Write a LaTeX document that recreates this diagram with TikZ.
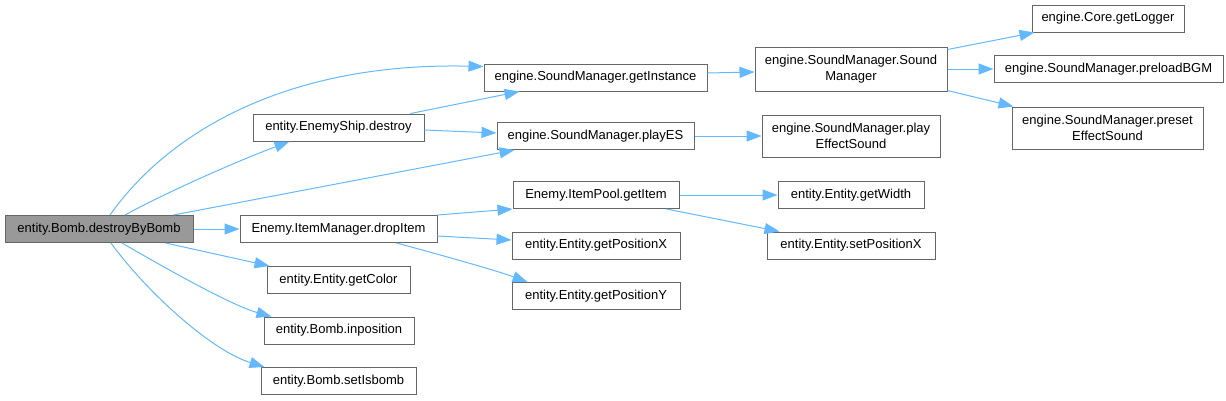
\documentclass[tikz,border=0pt]{standalone}
\usepackage{fontspec}
\setmainfont{Liberation Sans}
\usetikzlibrary{arrows.meta}
\definecolor{edgeblue}{HTML}{63B8FF}
\definecolor{boxgray}{HTML}{666666}
\definecolor{mainfill}{HTML}{999999}

\begin{document}
\begin{tikzpicture}[x=1pt,y=-1pt,
        func/.style = {draw=boxgray, fill=white, line width=1pt, inner sep=0pt,
            minimum height=27pt, align=center, font=\fontsize{13}{16}\selectfont},
        call/.style = {draw=edgeblue, line width=1pt, -{Triangle[length=15pt,width=11pt]}}]
        \useasboundingbox (0,0) rectangle (1226,400);

        % Caller
        \node[func,fill=mainfill,minimum width=188pt] (bomb) at (99,229) {entity.Bomb.destroyByBomb};

        % Second column
        \node[func,minimum width=171pt] (destroy) at (338.5,127.5) {entity.EnemyShip.destroy};
        \node[func,minimum width=197pt] (drop) at (338.5,229) {Enemy.ItemManager.dropItem};
        \node[func,minimum width=143pt] (color) at (338.5,280) {entity.Entity.getColor};
        \node[func,minimum width=150pt] (inpos) at (339,330.5) {entity.Bomb.inposition};
        \node[func,minimum width=155pt] (isbomb) at (338.5,381) {entity.Bomb.setIsbomb};

        % Third column
        \node[func,minimum width=223pt] (inst) at (595.5,77.5) {engine.SoundManager.getInstance};
        \node[func,minimum width=197pt] (play) at (595.5,136) {engine.SoundManager.playES};
        \node[func,minimum width=166pt] (item) at (596,195) {Enemy.ItemPool.getItem};
        \node[func,minimum width=168pt] (getx) at (596,245.5) {entity.Entity.getPositionX};
        \node[func,minimum width=168pt] (gety) at (596,296) {entity.Entity.getPositionY};

        % Fourth column
        \node[func,minimum width=192pt,minimum height=44pt] (smgr) at (851,69) {engine.SoundManager.Sound\\Manager};
        \node[func,minimum width=178pt,minimum height=42pt] (pes) at (851,136) {engine.SoundManager.play\\EffectSound};
        \node[func,minimum width=146pt] (width) at (851,195) {entity.Entity.getWidth};
        \node[func,minimum width=168pt] (setx) at (851,245.5) {entity.Entity.setPositionX};

        % Fifth column
        \node[func,minimum width=152pt] (logger) at (1108,18.5) {engine.Core.getLogger};
        \node[func,minimum width=229pt] (bgm) at (1108.5,69) {engine.SoundManager.preloadBGM};
        \node[func,minimum width=191pt,minimum height=42pt] (preset) at (1107.5,128) {engine.SoundManager.preset\\EffectSound};

        % Calls from destroyByBomb
        \draw[call] ([xshift=11pt]bomb.north) .. controls (170,130) and (290,62) .. ([yshift=11pt]inst.west);
        \draw[call] ([xshift=26pt]bomb.north) .. controls (165,193) and (235,162) .. ([xshift=37pt]destroy.south west);
        \draw[call] ([xshift=-20pt]bomb.north east) -- ([xshift=18pt]play.south west);
        \draw[call] (bomb.east) -- (drop.west);
        \draw[call] ([xshift=-28pt]bomb.south east) -- ([xshift=3pt]color.north west);
        \draw[call] ([xshift=23pt]bomb.south) .. controls (160,265) and (230,305) .. ([xshift=8pt]inpos.north west);
        \draw[call] ([xshift=12pt]bomb.south) .. controls (145,290) and (210,350) .. ([xshift=4pt]isbomb.north west);

        % Calls from the second column
        \draw[call] ([xshift=-14pt]destroy.north east) -- ([xshift=36pt]inst.south west);
        \draw[call] ([yshift=-2.5pt]destroy.east) -- ([yshift=3pt]play.west);
        \draw[call] (drop.north east) -- (item.south west);
        \draw[call] ([yshift=-7pt]drop.east) -- ([yshift=5.5pt]getx.west);
        \draw[call] ([xshift=-41pt]drop.south east) .. controls (430,252) and (495,270) .. ([xshift=16pt]gety.north west);

        % Calls from the third column
        \draw[call] ([yshift=4.5pt]inst.east) -- ([yshift=-3pt]smgr.west);
        \draw[call] (play.east) -- (pes.west);
        \draw[call] (item.east) -- (width.west);
        \draw[call] ([xshift=-13pt]item.south east) -- ([xshift=13pt]setx.north west);

        % Calls from SoundManager
        \draw[call] ([yshift=-3pt]smgr.north east) -- ([xshift=3pt]logger.south west);
        \draw[call] (smgr.east) -- (bgm.west);
        \draw[call] ([yshift=1pt]smgr.south east) -- ([xshift=2pt]preset.north west);
    \end{tikzpicture}
\end{document}
